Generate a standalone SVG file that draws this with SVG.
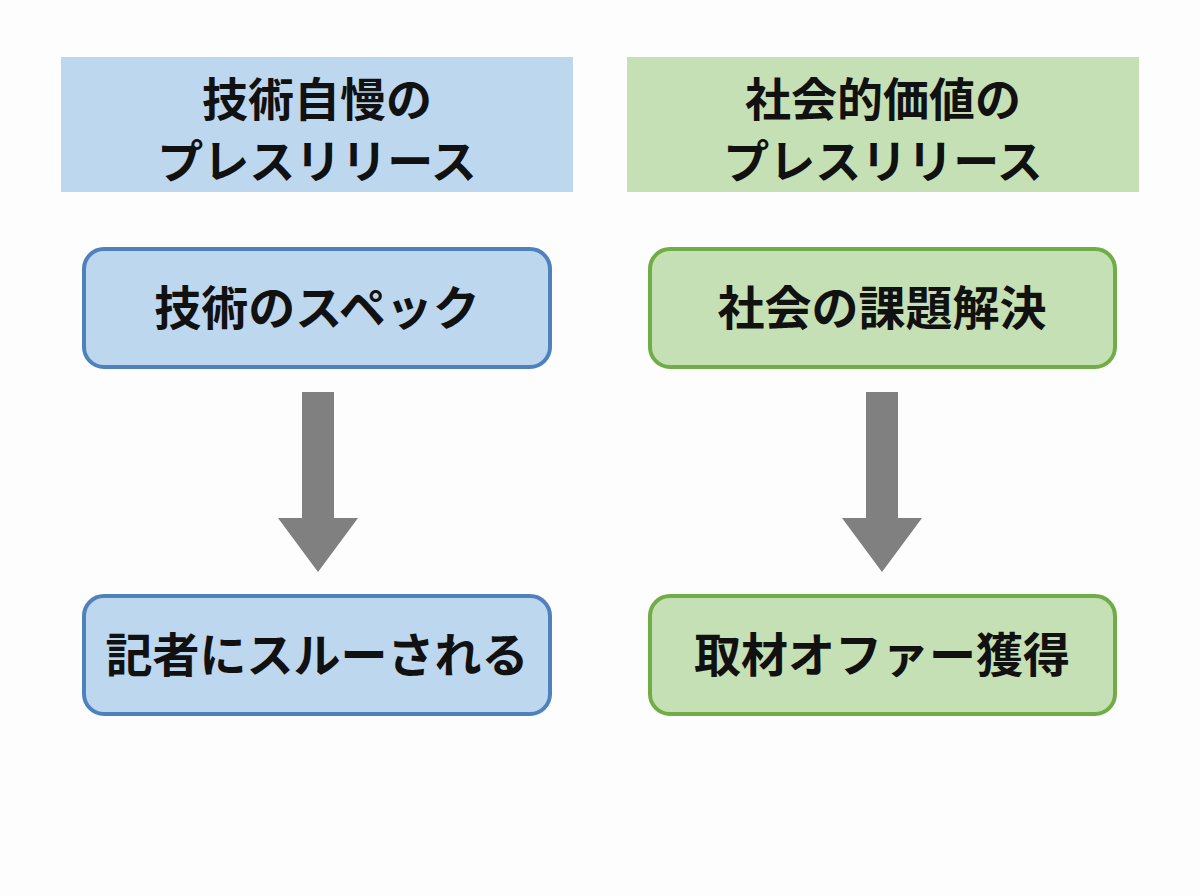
<svg xmlns="http://www.w3.org/2000/svg" width="1200" height="896" viewBox="0 0 1200 896">
<style>
text{font-family:"Noto Sans CJK JP","Noto Sans",sans-serif;font-weight:bold;fill:#111;text-anchor:middle}
.h{font-size:46px}.b{font-size:47px}
.bl{fill:#bdd7ee;stroke:#4f81bd;stroke-width:4}
.gr{fill:#c5e0b4;stroke:#70ad47;stroke-width:4}
.ar{fill:#808080}
</style>
<rect width="1200" height="896" fill="#fdfdfd"/>
<g id="header-left"><rect x="61" y="57" width="512" height="135" fill="#bdd7ee"/>
<text class="h" x="317" y="116">技術自慢の</text><text class="h" x="317" y="178">プレスリリース</text></g>
<g id="header-right"><rect x="627" y="57" width="512" height="135" fill="#c5e0b4"/>
<text class="h" x="883" y="116">社会的価値の</text><text class="h" x="883" y="178">プレスリリース</text></g>
<g id="node-spec"><rect class="bl" x="84" y="249" width="466" height="118" rx="20"/><text class="b" x="317" y="325">技術のスペック</text></g>
<g id="node-social"><rect class="gr" x="650" y="249" width="465" height="118" rx="20"/><text class="b" x="882" y="325">社会の課題解決</text></g>
<g id="node-through"><rect class="bl" x="84" y="596" width="466" height="118" rx="20"/><text class="b" x="317" y="672">記者にスルーされる</text></g>
<g id="node-offer"><rect class="gr" x="650" y="596" width="465" height="118" rx="20"/><text class="b" x="882" y="672">取材オファー獲得</text></g>
<g id="connectors">
<polygon class="ar" points="302,392 334,392 334,518 358,518 318,572 278,518 302,518"/>
<polygon class="ar" points="866,392 898,392 898,518 922,518 882,572 842,518 866,518"/>
</g>
</svg>
